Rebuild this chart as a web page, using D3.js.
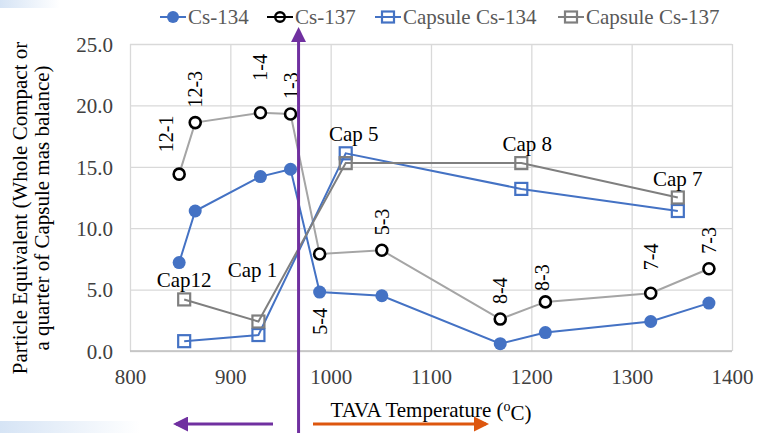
<!DOCTYPE html>
<html>
<head>
<meta charset="utf-8">
<script src="https://cdn.jsdelivr.net/npm/d3@7"></script>
<style>
  body { margin: 0; background: #fff; }
</style>
</head>
<body>
<svg></svg>
<script>
var width = 757;
var height = 433;
var serif = "Liberation Serif";

// whole compacts (TAVA temperature, deg C)
var sampleTemps = [849, 865, 930, 960, 989, 1051, 1169, 1214, 1319, 1377];
var sampleLabels = ["12-1", "12-3", "1-4", "1-3", "5-4", "5-3", "8-4", "8-3", "7-4", "7-3"];
var cs134 = [7.2, 11.4, 14.2, 14.8, 4.8, 4.5, 0.6, 1.5, 2.4, 3.9];
var cs137 = [14.4, 18.6, 19.4, 19.3, 7.9, 8.2, 2.6, 4.0, 4.7, 6.7];

// capsules
var capsuleTemps = [854, 928, 1015, 1190, 1346];
var capsuleLabels = ["Cap12", "Cap 1", "Cap 5", "Cap 8", "Cap 7"];
var capCs134 = [0.8, 1.3, 16.1, 13.2, 11.4];
var capCs137 = [4.2, 2.4, 15.3, 15.3, 12.5];

var xTicks = [800, 900, 1000, 1100, 1200, 1300, 1400];
var yTicks = [0, 5, 10, 15, 20, 25];
var seriesNames = ["Cs-134", "Cs-137", "Capsule Cs-134", "Capsule Cs-137"];

var blue = "#4472c4";
var purple = "#7030a0";
var orange = "#dd560e";

var x = d3.scaleLinear().domain([800, 1400]).range([130, 732]);
var y = d3.scaleLinear().domain([0, 25]).range([351, 44]);

var svg = d3.select("svg").attr("width", width).attr("height", height)
    .attr("font-family", serif);

// faint slide decoration
var defs = svg.append("defs");
var grad = defs.append("linearGradient").attr("id", "fade");
grad.append("stop").attr("offset", "0%").attr("stop-color", "#d6e4f5");
grad.append("stop").attr("offset", "100%").attr("stop-color", "#ffffff");
svg.append("rect").attr("x", 0).attr("y", 421).attr("width", 140).attr("height", 12).attr("fill", "url(#fade)");
svg.append("rect").attr("x", 0).attr("y", 0).attr("width", 60).attr("height", 8).attr("fill", "url(#fade)");

// gridlines + tick labels
var xAxis = d3.axisBottom(x).tickValues(xTicks).tickSize(-(y(0) - y(25))).tickFormat(d3.format("d"));
var yAxis = d3.axisLeft(y).tickValues(yTicks).tickSize(-(x(1400) - x(800))).tickFormat(d3.format(".1f"));

var gx = svg.append("g").attr("transform", "translate(0," + y(0) + ")").call(xAxis);
var gy = svg.append("g").attr("transform", "translate(" + x(800) + ",0)").call(yAxis);
[gx, gy].forEach(function(g) {
    g.attr("font-family", serif).attr("font-size", 21);
    g.select(".domain").remove();
    g.selectAll(".tick line").attr("stroke", "#d9d9d9").attr("stroke-width", 1.3);
    g.selectAll(".tick text").attr("fill", "#404040");
});
gx.selectAll(".tick text").attr("dy", "1.45em");
gy.selectAll(".tick text").attr("x", -17).attr("dy", "0.35em");
svg.append("line").attr("x1", x(800)).attr("x2", x(1400)).attr("y1", y(0)).attr("y2", y(0))
    .attr("stroke", "#bfbfbf").attr("stroke-width", 1.3);

// axis titles
var yTitle = svg.append("text")
    .attr("transform", "translate(27,208) rotate(-90)")
    .attr("text-anchor", "middle")
    .attr("font-family", serif).attr("font-size", 21)
    .attr("fill", "#000");
yTitle.append("tspan").attr("x", 0).attr("dy", 0).text("Particle Equivalent (Whole Compact or");
yTitle.append("tspan").attr("x", 0).attr("dy", "1.05em").text("a quarter of  Capsule mas balance)");

var xTitle = svg.append("text")
    .attr("x", 431).attr("y", 417)
    .attr("text-anchor", "middle")
    .attr("font-family", serif).attr("font-size", 21)
    .attr("fill", "#000");
xTitle.append("tspan").text("TAVA Temperature (");
xTitle.append("tspan").attr("dy", "-0.4em").attr("font-size", 14).text("o");
xTitle.append("tspan").attr("dy", "0.4em").text("C)");

// series
function pts(xs, ys) {
    return xs.map(function(t, i) { return [t, ys[i]]; });
}
var line = d3.line().x(function(d) { return x(d[0]); }).y(function(d) { return y(d[1]); });

var cs134Pts = pts(sampleTemps, cs134);
var cs137Pts = pts(sampleTemps, cs137);
var cap134Pts = pts(capsuleTemps, capCs134);
var cap137Pts = pts(capsuleTemps, capCs137);

svg.append("path").attr("d", line(cs134Pts)).attr("fill", "none").attr("stroke", blue).attr("stroke-width", 2);
svg.selectAll(".c134").data(cs134Pts).enter().append("circle")
    .attr("cx", function(d) { return x(d[0]); })
    .attr("cy", function(d) { return y(d[1]); })
    .attr("r", 6.5).attr("fill", blue);

svg.append("path").attr("d", line(cs137Pts)).attr("fill", "none").attr("stroke", "#a5a5a5").attr("stroke-width", 2);
svg.selectAll(".c137").data(cs137Pts).enter().append("circle")
    .attr("cx", function(d) { return x(d[0]); })
    .attr("cy", function(d) { return y(d[1]); })
    .attr("r", 5.5).attr("fill", "#fff").attr("stroke", "#000").attr("stroke-width", 2.6);

svg.append("path").attr("d", line(cap134Pts)).attr("fill", "none").attr("stroke", blue).attr("stroke-width", 2);
svg.selectAll(".s134").data(cap134Pts).enter().append("rect")
    .attr("x", function(d) { return x(d[0]) - 6; })
    .attr("y", function(d) { return y(d[1]) - 6; })
    .attr("width", 12).attr("height", 12)
    .attr("fill", "none").attr("stroke", blue).attr("stroke-width", 2.2);

svg.append("path").attr("d", line(cap137Pts)).attr("fill", "none").attr("stroke", "#7f7f7f").attr("stroke-width", 2);
svg.selectAll(".s137").data(cap137Pts).enter().append("rect")
    .attr("x", function(d) { return x(d[0]) - 6; })
    .attr("y", function(d) { return y(d[1]) - 6; })
    .attr("width", 12).attr("height", 12)
    .attr("fill", "none").attr("stroke", "#7f7f7f").attr("stroke-width", 2.2);

// rotated labels of the compacts (above the Cs-137 point, a few moved by hand)
var labelNudge = { "12-1": [-13, -7], "1-4": [0, -17], "7-4": [0, -8], "8-3": [-3, 4] };
sampleLabels.forEach(function(lab, i) {
    var px = x(sampleTemps[i]);
    var py, anchor;
    if (lab === "5-4") {
        py = y(cs134[i]) + 16;
        anchor = "end";
    } else {
        py = y(cs137[i]) - 15;
        anchor = "start";
    }
    var n = labelNudge[lab] || [0, 0];
    svg.append("text")
        .attr("transform", "translate(" + (px + n[0]) + "," + (py + n[1]) + ") rotate(-90)")
        .attr("dy", "0.35em")
        .attr("text-anchor", anchor)
        .attr("font-family", serif).attr("font-size", 20)
        .attr("fill", "#000")
        .text(lab);
});

// capsule labels (above the Capsule Cs-137 square)
var capNudge = { "Cap 1": [-6, -33], "Cap 5": [8, -10], "Cap 8": [6, 0] };
capsuleLabels.forEach(function(lab, i) {
    var n = capNudge[lab] || [0, 0];
    svg.append("text")
        .attr("x", x(capsuleTemps[i]) + n[0])
        .attr("y", y(capCs137[i]) - 12 + n[1])
        .attr("text-anchor", "middle")
        .attr("font-family", serif).attr("font-size", 21)
        .attr("fill", "#000")
        .text(lab);
});

// legend
var legendX = [160, 267, 375, 558];
var legendY = 17;
var legendStyles = [
    { stroke: blue, marker: "dot" },
    { stroke: "#000", marker: "ring" },
    { stroke: blue, marker: "square" },
    { stroke: "#7f7f7f", marker: "square" }
];
seriesNames.forEach(function(name, i) {
    var st = legendStyles[i];
    var g = svg.append("g").attr("transform", "translate(" + legendX[i] + "," + legendY + ")");
    g.append("line").attr("x1", 0).attr("x2", 26).attr("stroke", st.stroke).attr("stroke-width", 2);
    if (st.marker === "dot") {
        g.append("circle").attr("cx", 13).attr("r", 6).attr("fill", st.stroke);
    } else if (st.marker === "ring") {
        g.append("circle").attr("cx", 13).attr("r", 4.8).attr("fill", "none").attr("stroke", "#000").attr("stroke-width", 2.4);
    } else {
        g.append("rect").attr("x", 7).attr("y", -5.5).attr("width", 12).attr("height", 11)
            .attr("fill", "none").attr("stroke", st.stroke).attr("stroke-width", 2.2);
    }
    g.append("text").attr("x", 28).attr("dy", "0.35em")
        .attr("font-family", serif).attr("font-size", 21)
        .attr("fill", "#595959").text(name);
});

// slide annotations: vertical divider and direction arrows
function arrowHead(id, color) {
    defs.append("marker").attr("id", id).attr("viewBox", "0 0 10 10")
        .attr("refX", 8).attr("refY", 5).attr("markerWidth", 5).attr("markerHeight", 5)
        .attr("markerUnits", "strokeWidth").attr("orient", "auto")
        .append("path").attr("d", "M0,0 L10,5 L0,10 Z").attr("fill", color);
}
arrowHead("headPurple", purple);
arrowHead("headOrange", orange);

var dividerX = x(968);
svg.append("line").attr("x1", dividerX).attr("x2", dividerX).attr("y1", 433).attr("y2", 30)
    .attr("stroke", purple).attr("stroke-width", 3).attr("marker-end", "url(#headPurple)");
svg.append("line").attr("x1", 273).attr("x2", 176).attr("y1", 424).attr("y2", 424)
    .attr("stroke", purple).attr("stroke-width", 3).attr("marker-end", "url(#headPurple)");
svg.append("line").attr("x1", 313).attr("x2", 486).attr("y1", 424).attr("y2", 424)
    .attr("stroke", orange).attr("stroke-width", 3).attr("marker-end", "url(#headOrange)");
</script>
</body>
</html>
